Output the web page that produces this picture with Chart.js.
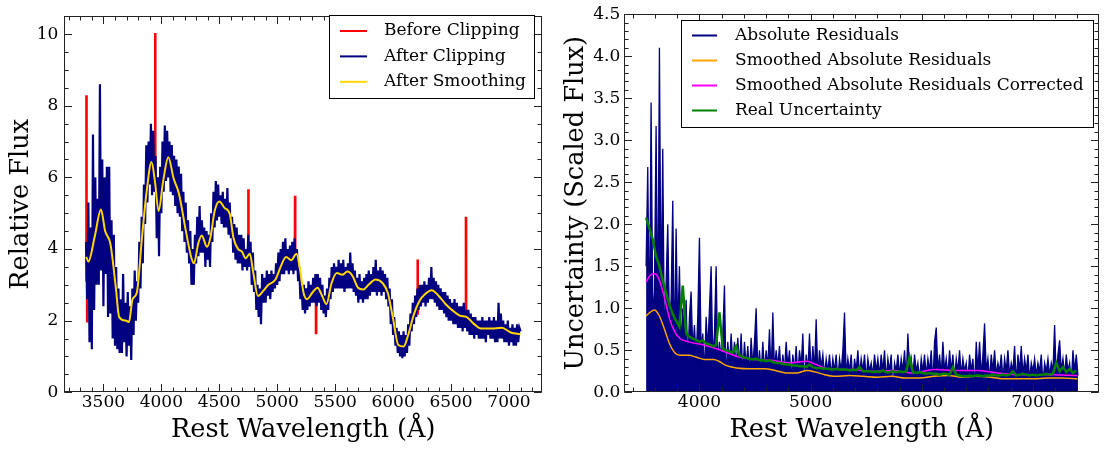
<!DOCTYPE html>
<html lang="en">
<head>
<meta charset="UTF-8" />
<title>Spectrum clipping and residuals</title>
<style>
  body { margin: 0; background: #fff; }
  #wrap { position: relative; width: 1109px; height: 450px; }
  canvas { position: absolute; top: 0; }
  #left { left: 0; }
  #right { left: 555px; }
</style>
<script src="https://cdn.jsdelivr.net/npm/chart.js"></script>
</head>
<body>
<div id="wrap">
  <canvas id="left" width="555" height="450"></canvas>
  <canvas id="right" width="554" height="450"></canvas>
</div>
<script>
// ---- left panel: flux ----
const fluxStart = 3350, fluxStep = 10;
const afterClipping = [
  4.2, 2.6, 5.3, 1.4, 4.6, 1.2, 7.2, 2.3, 6.0, 3.0,
  5.4, 3.0, 8.6, 3.4, 6.5, 2.4, 6.0, 3.3, 6.3, 2.1,
  6.3, 2.2, 4.8, 1.5, 4.4, 1.3, 3.5, 1.2, 2.9, 1.1,
  2.6, 1.1, 3.3, 1.4, 2.5, 1.0, 2.8, 1.3, 2.4, 0.9,
  2.9, 1.6, 3.4, 2.0, 3.1, 2.5, 4.2, 2.9, 4.9, 3.6,
  5.8, 4.7, 6.9, 5.3, 7.0, 5.8, 7.5, 5.5, 7.3, 5.6,
  6.6, 4.3, 6.0, 3.8, 6.3, 5.0, 7.0, 5.6, 7.45, 5.9,
  7.3, 6.0, 7.0, 5.6, 6.9, 5.5, 6.6, 5.2, 6.5, 5.0,
  6.3, 4.9, 6.1, 4.5, 5.6, 4.2, 5.3, 3.9, 4.8, 3.6,
  4.5, 3.0, 4.0, 3.0, 4.4, 3.6, 4.9, 3.8, 5.2, 3.9,
  4.8, 3.9, 4.6, 3.5, 4.5, 3.7, 4.4, 3.5, 5.0, 4.2,
  5.6, 4.6, 5.9, 4.8, 5.8, 4.9, 5.5, 4.7, 5.6, 4.6,
  5.4, 4.6, 5.7, 4.4, 5.3, 4.3, 4.9, 3.9, 4.7, 3.7,
  4.6, 3.6, 4.4, 3.6, 4.4, 3.4, 4.3, 3.5, 4.0, 3.4,
  4.4, 3.5, 4.2, 3.0, 3.9, 2.8, 3.4, 2.3, 3.0, 2.1,
  2.9, 1.9, 3.3, 2.5, 3.2, 2.5, 3.4, 2.7, 3.3, 2.6,
  3.4, 2.8, 3.3, 2.9, 3.6, 3.0, 3.9, 3.1, 4.0, 3.3,
  4.2, 3.3, 4.3, 3.4, 4.0, 3.3, 4.1, 3.4, 4.2, 3.3,
  4.3, 3.4, 4.0, 3.1, 3.5, 2.6, 3.0, 2.3, 3.0, 2.2,
  2.9, 2.3, 3.1, 2.4, 3.0, 2.5, 3.2, 2.5, 3.3, 2.4,
  3.3, 2.5, 3.2, 2.3, 3.0, 2.2, 2.7, 2.1, 2.9, 2.3,
  3.2, 2.6, 3.5, 2.8, 3.6, 2.9, 3.5, 2.9, 3.7, 2.9,
  3.6, 2.9, 3.7, 2.8, 3.5, 2.9, 3.6, 2.9, 3.9, 2.9,
  3.6, 2.8, 3.4, 2.7, 3.2, 2.5, 3.3, 2.6, 3.1, 2.5,
  3.2, 2.6, 3.3, 2.6, 3.4, 2.7, 3.3, 2.8, 3.5, 2.8,
  3.7, 2.7, 3.4, 2.8, 3.5, 2.7, 3.4, 2.8, 3.3, 2.6,
  3.2, 2.4, 2.9, 1.9, 2.6, 1.6, 2.1, 1.3, 1.8, 1.1,
  1.7, 1.0, 1.6, 0.95, 1.7, 1.0, 1.6, 1.1, 1.9, 1.3,
  2.2, 1.7, 2.5, 1.9, 2.7, 2.1, 2.9, 2.3, 3.0, 2.4,
  3.0, 2.5, 3.1, 2.4, 3.0, 2.5, 3.2, 2.6, 3.5, 2.6,
  3.2, 2.5, 3.1, 2.4, 3.0, 2.3, 2.9, 2.3, 2.8, 2.2,
  2.8, 2.1, 2.7, 2.0, 2.6, 2.0, 2.5, 1.9, 2.6, 1.9,
  2.5, 1.8, 2.4, 1.8, 2.4, 1.7, 2.5, 1.8, 2.3, 1.7,
  2.3, 1.6, 2.2, 1.6, 2.1, 1.5, 2.1, 1.6, 2.0, 1.5,
  2.0, 1.5, 2.1, 1.5, 2.0, 1.4, 2.0, 1.6, 2.1, 1.5,
  2.0, 1.5, 2.1, 1.4, 2.0, 1.4, 2.5, 1.5, 2.2, 1.5,
  2.0, 1.4, 1.9, 1.4, 2.0, 1.3, 1.8, 1.4, 1.9, 1.3,
  1.8, 1.3, 1.9, 1.4, 1.8, 1.7
];
// clipped spikes (only the parts that show above/below the clipped spectrum)
const clipWave = [3353, 3354, 3355, 3359, 3360, 3361, 3946, 3947, 3948, 3949, 4750, 4751, 4752, 4753,
                  5153, 5154, 5155, 5156, 5334, 5335, 5336, 5337, 6211, 6212, 6213, 6214, 6628, 6629, 6630];
const clipFlux = [3.1, 8.29, null, 4.0, 1.95, null, 5.6, 10.03, 5.8, null, 3.8, 5.67, 4.0, null,
                  3.9, 5.49, 4.0, null, 3.3, 1.66, 2.9, null, 2.2, 3.71, 2.5, null, 1.98, 4.9, 2.2];
const smoothWave = [3352, 3370, 3424, 3479, 3515, 3560, 3606, 3636, 3697, 3721, 3751, 3788, 3833, 3873,
  3915, 3945, 3976, 4015, 4060, 4106, 4151, 4212, 4257, 4282, 4318, 4348, 4394, 4424, 4460, 4500,
  4545, 4591, 4621, 4660, 4697, 4727, 4763, 4794, 4833, 4879, 4924, 4985, 5030, 5076, 5121, 5166,
  5197, 5227, 5257, 5303, 5348, 5388, 5424, 5469, 5515, 5560, 5606, 5651, 5697, 5742, 5788, 5848,
  5909, 5954, 6000, 6045, 6091, 6130, 6176, 6227, 6272, 6333, 6394, 6454, 6515, 6575, 6636, 6697,
  6757, 6848, 6939, 7015, 7100];
const smoothFlux = [3.78, 3.65, 4.33, 5.1, 4.5, 4.15, 2.96, 2.1, 2.0, 1.96, 2.6, 2.78, 4.33, 5.6,
  6.43, 5.88, 5.06, 5.88, 6.56, 5.97, 5.56, 4.5, 3.78, 3.6, 4.15, 4.38, 4.06, 4.33, 5.06, 5.33,
  5.15, 4.97, 4.33, 4.01, 3.92, 3.74, 3.87, 3.33, 2.69, 2.83, 3.0, 3.15, 3.51, 3.78, 3.69, 3.87,
  3.42, 2.78, 2.6, 2.78, 2.92, 2.69, 2.46, 3.05, 3.33, 3.28, 3.37, 3.24, 2.92, 2.87, 3.0, 3.15,
  3.05, 2.78, 2.05, 1.32, 1.28, 1.6, 2.14, 2.55, 2.73, 2.85, 2.69, 2.46, 2.28, 2.14, 2.1, 1.91,
  1.78, 1.78, 1.8, 1.67, 1.62];
const leftXTicks = [3500, 4000, 4500, 5000, 5500, 6000, 6500, 7000];
const leftYTicks = [0, 2, 4, 6, 8, 10];

// ---- right panel: uncertainty ----
const residStart = 3520, residStep = 15;
const absResiduals = [
  1.5, 2.68, 0.6, 3.45, 0.9, 1.2, 3.17, 0.7, 4.1, 1.0,
  2.9, 0.5, 1.3, 2.0, 0.8, 1.1, 2.28, 0.4, 1.95, 0.7,
  1.5, 0.5, 1.0, 0.6, 1.1, 0.3, 0.9, 1.2, 0.5, 0.8,
  0.4, 0.9, 1.84, 0.5, 0.7, 0.2, 0.9, 0.5, 1.0, 1.5,
  0.4, 0.7, 1.5, 0.3, 0.6, 0.4, 0.7, 1.27, 0.1, 0.6,
  0.3, 0.7, 0.35, 0.6, 0.25, 0.65, 0.3, 0.7, 0.2, 0.6,
  0.3, 0.55, 0.2, 0.65, 0.3, 0.6, 1.0, 0.25, 0.5, 0.2,
  0.6, 0.25, 0.5, 0.3, 0.75, 0.2, 0.95, 0.25, 0.5, 0.3,
  0.55, 0.2, 0.45, 0.25, 0.6, 0.3, 0.5, 0.15, 0.45, 0.25,
  0.55, 0.2, 0.5, 0.3, 0.7, 0.05, 0.45, 0.25, 0.7, 0.2,
  0.55, 0.25, 0.87, 0.2, 0.5, 0.3, 0.45, 0.2, 0.4, 0.25,
  0.45, 0.2, 0.4, 0.25, 0.45, 0.15, 0.4, 0.25, 0.5, 0.95,
  0.2, 0.4, 0.25, 0.45, 0.1, 0.4, 0.25, 0.5, 0.2, 0.4,
  0.25, 0.45, 0.15, 0.4, 0.25, 0.35, 0.2, 0.45, 0.25, 0.4,
  0.2, 0.45, 0.25, 0.5, 0.15, 0.4, 0.25, 0.45, 0.0, 0.35,
  0.25, 0.45, 0.2, 0.4, 0.25, 0.5, 0.15, 0.7, 0.25, 0.4,
  0.2, 0.45, 0.25, 0.35, 0.15, 0.4, 0.25, 0.45, 0.2, 0.4,
  0.25, 0.5, 0.1, 0.6, 0.77, 0.25, 0.45, 0.2, 0.6, 0.25,
  0.4, 0.2, 0.5, 0.25, 0.45, 0.15, 0.4, 0.25, 0.5, 0.2,
  0.4, 0.25, 0.35, 0.15, 0.45, 0.25, 0.4, 0.05, 0.6, 0.25,
  0.6, 0.2, 0.45, 0.82, 0.25, 0.4, 0.15, 0.45, 0.25, 0.5,
  0.2, 0.35, 0.25, 0.45, 0.15, 0.4, 0.25, 0.5, 0.2, 0.35,
  0.25, 0.55, 0.1, 0.45, 0.25, 0.55, 0.2, 0.4, 0.25, 0.45,
  0.15, 0.35, 0.25, 0.4, 0.2, 0.35, 0.25, 0.45, 0.1, 0.35,
  0.25, 0.4, 0.2, 0.35, 0.25, 0.8, 0.15, 0.45, 0.62, 0.25,
  0.4, 0.2, 0.45, 0.25, 0.35, 0.1, 0.5, 0.25, 0.45, 0.2
];
const smoothResWave = [3520, 3545, 3594, 3635, 3683, 3730, 3778, 3825, 3905, 3968, 4048, 4127, 4175,
  4238, 4333, 4460, 4587, 4683, 4778, 4873, 4968, 5048, 5127, 5222, 5349, 5476, 5603, 5730, 5857,
  5984, 6111, 6238, 6365, 6492, 6619, 6746, 6873, 7000, 7127, 7254, 7400];
const smoothRes = [0.91, 0.94, 0.98, 0.92, 0.76, 0.58, 0.47, 0.44, 0.44, 0.42, 0.39, 0.39, 0.37,
  0.32, 0.29, 0.28, 0.28, 0.26, 0.23, 0.23, 0.26, 0.24, 0.21, 0.19, 0.20, 0.19, 0.18, 0.19, 0.17,
  0.17, 0.19, 0.20, 0.18, 0.19, 0.18, 0.16, 0.16, 0.16, 0.17, 0.17, 0.16];
const correctedWave = [3520, 3555, 3594, 3635, 3683, 3730, 3778, 3825, 3905, 4048, 4175, 4333, 4492,
  4651, 4810, 4968, 5048, 5159, 5381, 5540, 5730, 5921, 6111, 6302, 6492, 6683, 6873, 7064, 7191, 7400];
const correctedRes = [1.31, 1.39, 1.41, 1.35, 1.14, 0.88, 0.72, 0.64, 0.60, 0.56, 0.51, 0.43, 0.39,
  0.38, 0.35, 0.37, 0.33, 0.28, 0.27, 0.25, 0.26, 0.23, 0.27, 0.26, 0.26, 0.23, 0.21, 0.21, 0.21, 0.20];
const realStart = 3520, realStep = 30;
const realUncertainty = [
  2.08, 1.95, 1.82, 1.62, 1.5, 1.33, 1.18, 1.04, 0.93, 0.85,
  0.78, 1.27, 0.7, 0.66, 0.64, 0.62, 0.6, 0.62, 0.58, 0.57,
  0.55, 0.56, 0.95, 0.52, 0.5, 0.49, 0.47, 0.55, 0.44, 0.42,
  0.41, 0.4, 0.39, 0.4, 0.38, 0.38, 0.37, 0.38, 0.36, 0.35,
  0.35, 0.34, 0.33, 0.33, 0.32, 0.32, 0.31, 0.31, 0.3, 0.33,
  0.3, 0.29, 0.29, 0.28, 0.28, 0.28, 0.27, 0.28, 0.27, 0.27,
  0.27, 0.26, 0.27, 0.26, 0.3, 0.25, 0.25, 0.25, 0.24, 0.25,
  0.24, 0.26, 0.24, 0.24, 0.25, 0.24, 0.25, 0.24, 0.25, 0.42,
  0.24, 0.23, 0.24, 0.23, 0.22, 0.23, 0.22, 0.22, 0.21, 0.22,
  0.22, 0.21, 0.3, 0.21, 0.2, 0.19, 0.19, 0.2, 0.19, 0.2,
  0.2, 0.19, 0.2, 0.2, 0.21, 0.2, 0.2, 0.21, 0.2, 0.21,
  0.25, 0.2, 0.21, 0.22, 0.21, 0.2, 0.21, 0.2, 0.21, 0.21,
  0.22, 0.21, 0.22, 0.35, 0.25, 0.3, 0.24, 0.28, 0.23, 0.26
];
const rightXTicks = [4000, 5000, 6000, 7000];
const rightYTicks = [0, 0.5, 1, 1.5, 2, 2.5, 3, 3.5, 4, 4.5];

// ---- helpers ----
const onGrid = (start, step, vals) => vals.map((v, i) => ({ x: start + i * step, y: v }));
const pairs = (xs, ys) => xs.map((x, i) => ({ x: x, y: ys[i] }));

Chart.defaults.font.family = "'DejaVu Serif', serif";
Chart.defaults.color = '#000';

// matplotlib-like frame with inward ticks on all four sides
const frameTicks = {
  id: 'frameTicks',
  afterDatasetsDraw(chart, args, o) {
    const { ctx, chartArea: a, scales } = chart;
    const L = Math.round(a.left) + 0.5, R = Math.round(a.right) - 0.5;
    const T = Math.round(a.top) + 0.5, B = Math.round(a.bottom) - 0.5;
    ctx.save();
    ctx.strokeStyle = '#222';
    ctx.lineWidth = 1;
    ctx.beginPath();
    const mark = (scale, step, len) => {
      for (let k = Math.ceil(scale.min / step - 1e-6); k * step <= scale.max + 1e-6; k++) {
        const p = Math.round(scale.getPixelForValue(k * step)) + 0.5;
        if (scale.isHorizontal()) {
          ctx.moveTo(p, B); ctx.lineTo(p, B - len);
          ctx.moveTo(p, T); ctx.lineTo(p, T + len);
        } else {
          ctx.moveTo(L, p); ctx.lineTo(L + len, p);
          ctx.moveTo(R, p); ctx.lineTo(R - len, p);
        }
      }
    };
    mark(scales.x, o.xMinor, 4);
    mark(scales.x, o.xMajor, 7.5);
    mark(scales.y, o.yMinor, 4);
    mark(scales.y, o.yMajor, 7.5);
    ctx.stroke();
    ctx.strokeRect(L, T, R - L, B - T);
    ctx.restore();
  }
};

// boxed legend drawn inside the plot
const boxLegend = {
  id: 'boxLegend',
  afterDraw(chart, args, o) {
    const ctx = chart.ctx;
    ctx.save();
    ctx.fillStyle = '#fff';
    ctx.fillRect(o.x, o.y, o.w, o.h);
    ctx.strokeStyle = '#000';
    ctx.lineWidth = 1;
    ctx.strokeRect(o.x + 0.5, o.y + 0.5, o.w, o.h);
    ctx.font = "17px 'DejaVu Serif'";
    ctx.textBaseline = 'middle';
    chart.data.datasets.forEach((ds, i) => {
      const y = o.rowY + i * o.gap;
      ctx.strokeStyle = ds.borderColor;
      ctx.lineWidth = 2;
      ctx.beginPath();
      ctx.moveTo(o.l1, y);
      ctx.lineTo(o.l2, y);
      ctx.stroke();
      ctx.fillStyle = '#000';
      ctx.fillText(ds.label, o.tx, y);
    });
    ctx.restore();
  }
};

function makeOptions(c) {
  return {
    responsive: false,
    animation: false,
    devicePixelRatio: 1,
    layout: { padding: c.pad },
    elements: { point: { radius: 0 } },
    plugins: {
      legend: { display: false },
      tooltip: { enabled: false },
      frameTicks: c.ticks,
      boxLegend: c.legend
    },
    scales: {
      x: {
        type: 'linear', min: c.xMin, max: c.xMax,
        grid: { display: false, drawTicks: false },
        border: { display: false },
        ticks: { padding: 0.5, font: { size: 17 }, maxRotation: 0, autoSkip: false, callback: v => String(v) },
        afterBuildTicks: s => { s.ticks = c.xTicks.map(v => ({ value: v })); },
        afterFit: s => { s.height = 57.7; },
        title: { display: true, text: 'Rest Wavelength (Å)', font: { size: 25.6 }, padding: { top: 0, bottom: 4.3 } }
      },
      y: {
        type: 'linear', min: c.yMin, max: c.yMax,
        grid: { display: false, drawTicks: false },
        border: { display: false },
        ticks: { padding: c.yPad, font: { size: 17 }, autoSkip: false, callback: c.yFmt },
        afterBuildTicks: s => { s.ticks = c.yTicks.map(v => ({ value: v })); },
        afterFit: s => { s.width = c.yWidth; },
        title: { display: true, text: c.yTitle, font: { size: 25.6 }, padding: { top: 5.5, bottom: 0 } }
      }
    }
  };
}

new Chart(document.getElementById('left'), {
  type: 'line',
  data: {
    datasets: [
      { label: 'Before Clipping', data: pairs(clipWave, clipFlux), borderColor: '#ff0000',
        borderWidth: 2.6, spanGaps: false, order: 3 },
      { label: 'After Clipping', data: onGrid(fluxStart, fluxStep, afterClipping), borderColor: '#000080',
        borderWidth: 2.2, order: 2 },
      { label: 'After Smoothing', data: pairs(smoothWave, smoothFlux), borderColor: '#ffd700',
        borderWidth: 2, tension: 0.4, cubicInterpolationMode: 'monotone', order: 1 }
    ]
  },
  options: makeOptions({
    pad: { top: 7.3, right: 12.7, bottom: 0, left: 0 },
    xMin: 3162.5, xMax: 7287.5, yMin: 0, yMax: 10.5,
    xTicks: leftXTicks, yTicks: leftYTicks,
    yWidth: 64.3, yPad: 6, yTitle: 'Relative Flux',
    yFmt: v => String(v),
    ticks: { xMajor: 500, xMinor: 100, yMajor: 2, yMinor: 0.5 },
    legend: { x: 329, y: 15, w: 205, h: 83, rowY: 31, gap: 25.4, l1: 340, l2: 367, tx: 384 }
  }),
  plugins: [frameTicks, boxLegend]
});

new Chart(document.getElementById('right'), {
  type: 'line',
  data: {
    datasets: [
      { label: 'Absolute Residuals', data: onGrid(residStart, residStep, absResiduals), borderColor: '#000080',
        backgroundColor: '#000080', fill: 'origin', borderWidth: 1.3, order: 4 },
      { label: 'Smoothed Absolute Residuals', data: pairs(smoothResWave, smoothRes), borderColor: '#ffa500',
        borderWidth: 1.5, tension: 0.4, cubicInterpolationMode: 'monotone', order: 3 },
      { label: 'Smoothed Absolute Residuals Corrected', data: pairs(correctedWave, correctedRes),
        borderColor: '#ff00ff', borderWidth: 1.5, tension: 0.4, cubicInterpolationMode: 'monotone', order: 2 },
      { label: 'Real Uncertainty', data: onGrid(realStart, realStep, realUncertainty), borderColor: '#008000',
        borderWidth: 2.5, order: 1 }
    ]
  },
  options: makeOptions({
    pad: { top: 13.3, right: 9.7, bottom: 0, left: 0 },
    xMin: 3324, xMax: 7597, yMin: 0, yMax: 4.5,
    xTicks: rightXTicks, yTicks: rightYTicks,
    yWidth: 69.3, yPad: 4, yTitle: 'Uncertainty (Scaled Flux)',
    yFmt: v => v.toFixed(1),
    ticks: { xMajor: 1000, xMinor: 200, yMajor: 0.5, yMinor: 0.1 },
    legend: { x: 126, y: 20, w: 412, h: 107, rowY: 35.5, gap: 25, l1: 137, l2: 162, tx: 180 }
  }),
  plugins: [frameTicks, boxLegend]
});
</script>
</body>
</html>
